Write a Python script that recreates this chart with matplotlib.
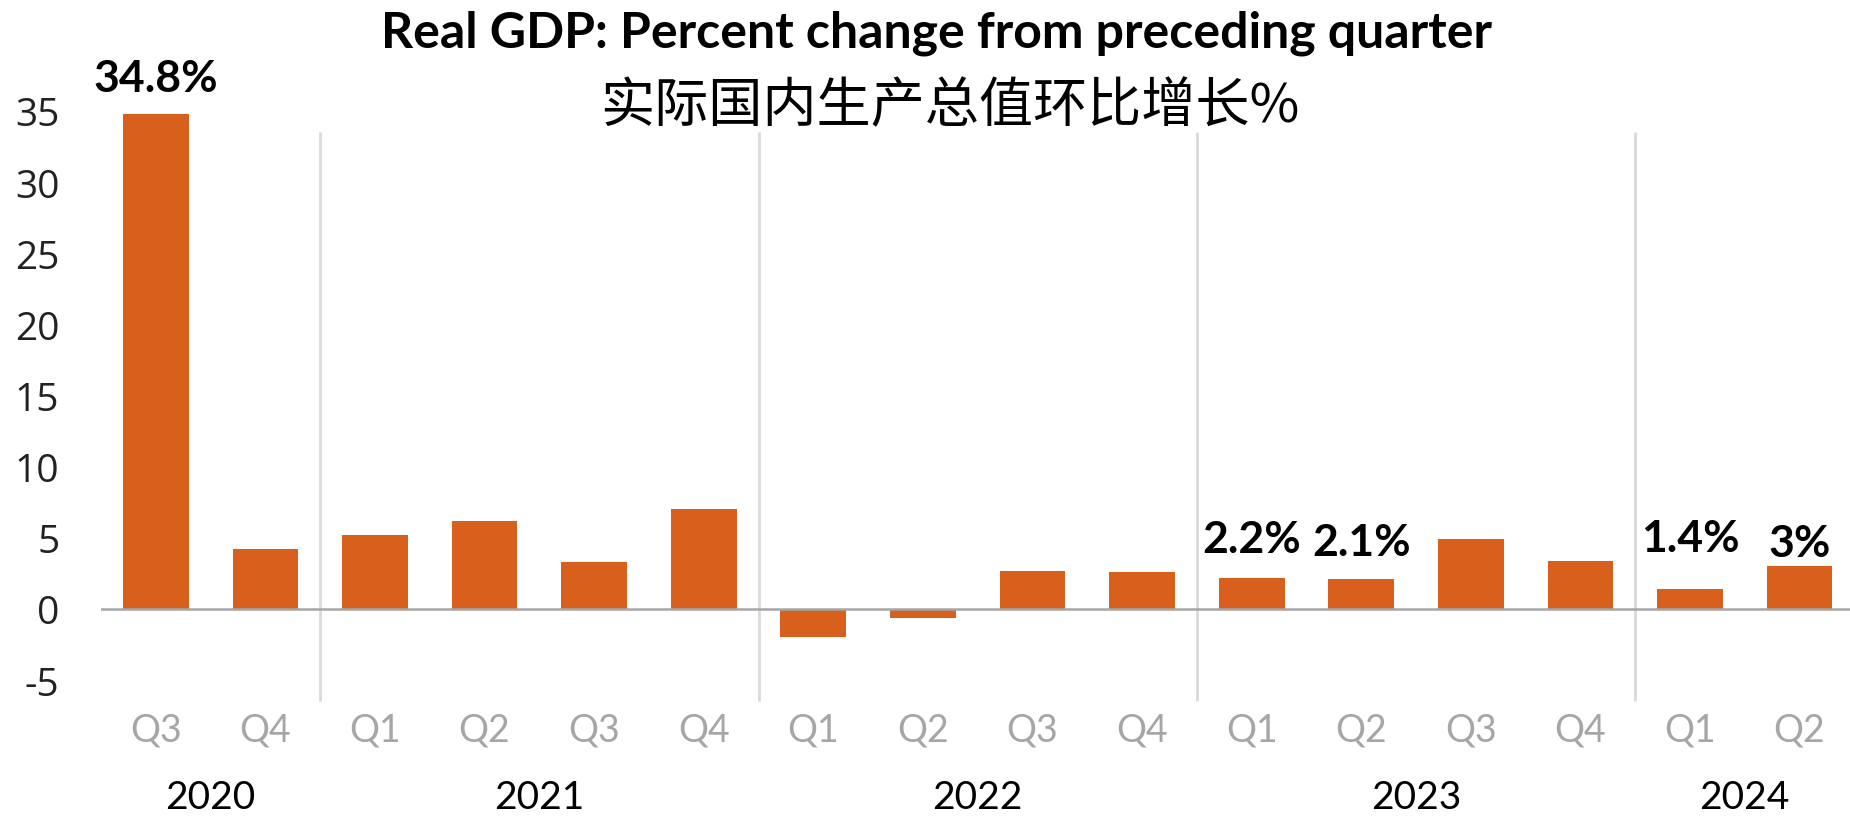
import matplotlib
matplotlib.use("Agg")
import matplotlib.pyplot as plt
import numpy as np

# --- dados ---
years = ["2020", "2021", "2022", "2023", "2024"]
quarters_per_year = [2, 4, 4, 4, 2]
quarters = ["Q3", "Q4",
            "Q1", "Q2", "Q3", "Q4",
            "Q1", "Q2", "Q3", "Q4",
            "Q1", "Q2", "Q3", "Q4",
            "Q1", "Q2"]
gdp_change = [34.8, 4.2,
              5.2, 6.2, 3.3, 7.0,
              -2.0, -0.6, 2.7, 2.6,
              2.2, 2.1, 4.9, 3.4,
              1.4, 3.0]
highlight_idx = [0, 10, 11, 14, 15]
highlight_txt = ["34.8%", "2.2%", "2.1%", "1.4%", "3%"]
y_ticks = [-5, 0, 5, 10, 15, 20, 25, 30, 35]

# --- estilo ---
BAR_COLOR = "#D9601C"
NARROW = ["Lato", "DejaVu Sans"]
label_offsets = [26, 28, 27, 37, 17]  # pontos acima do topo da barra

fig = plt.figure(figsize=(18.5, 8.2), dpi=100)
ax = fig.add_axes([101 / 1850, 1 - 709.6 / 820, 1749 / 1850, (709.6 - 97.7) / 820])

x = np.arange(len(gdp_change))
ax.bar(x, gdp_change, width=0.6, color=BAR_COLOR, zorder=2)

ax.set_xlim(-0.5, 15.46)
ax.set_ylim(-7, 36)
ax.axhline(0, color="#A6A6A6", lw=1.8, zorder=3)

for s in ax.spines.values():
    s.set_visible(False)

# eixo y (hífen simples, como no original)
ax.set_yticks(y_ticks, labels=[str(v) for v in y_ticks])
ax.tick_params(axis="y", length=0, pad=30, labelsize=28, labelcolor="#222222")
for t in ax.get_yticklabels():
    t.set_family(["Open Sans", "DejaVu Sans"])

# eixo x: trimestres
ax.set_xticks(x, labels=quarters)
ax.tick_params(axis="x", length=0, pad=2, labelsize=27, labelcolor="#A6A6A6")
for t in ax.get_xticklabels():
    t.set_family(NARROW)

# separadores de ano e rótulos de ano
bounds = np.cumsum([0] + quarters_per_year) - 0.5
for b in bounds[1:-1]:
    ax.vlines(b, -6.5, 33.5, color="#D9D9D9", lw=2, clip_on=False, zorder=1)
for i, yr in enumerate(years):
    c = (bounds[i] + bounds[i + 1]) / 2
    ax.text(c, -13.2, yr, ha="center", va="center", fontsize=28,
            family=NARROW, color="black", clip_on=False)

# rótulos de valores
for i, txt, off in zip(highlight_idx, highlight_txt, label_offsets):
    ax.annotate(txt, (x[i], gdp_change[i]), xytext=(0, off), textcoords="offset points",
                ha="center", va="center", fontsize=32, fontweight="bold",
                family=NARROW, color="black")

# títulos
fig.text(936 / 1850, 1 - 33 / 820, "Real GDP: Percent change from preceding quarter",
         ha="center", va="center", fontsize=36, fontweight="bold", family=NARROW)
fig.text(950 / 1850, 1 - 107 / 820, "实际国内生产总值环比增长%",
         ha="center", va="center", fontsize=39,
         family=["Noto Sans CJK SC", "DejaVu Sans"])

fig.savefig("out.png", dpi=100)
